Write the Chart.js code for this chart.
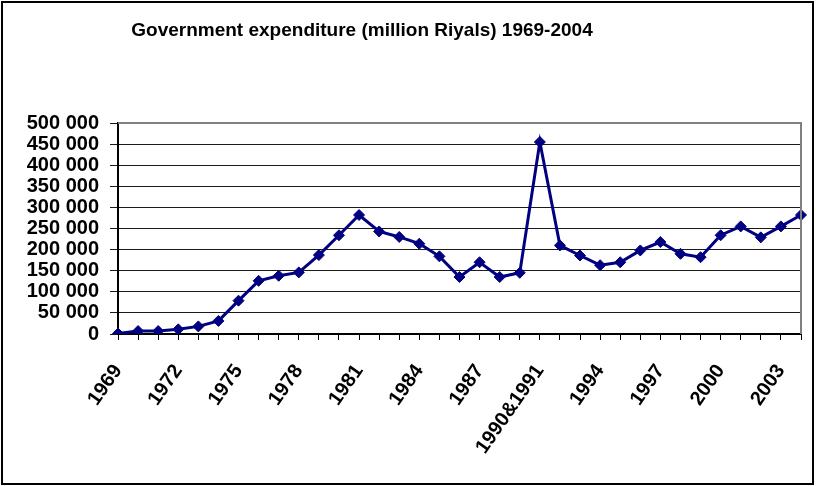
<!DOCTYPE html>
<html>
<head>
<meta charset="utf-8">
<script src="https://cdn.jsdelivr.net/npm/chart.js@4"></script>
<style>
  html, body { margin: 0; padding: 0; background: #fff; }
  #wrap { width: 816px; height: 486px; position: relative; }
</style>
</head>
<body>
<div id="wrap"><canvas id="chart" width="816" height="486"></canvas></div>
<script>
// --- Datos ---
const years = [
  "1969", "1970", "1971", "1972", "1973", "1974", "1975", "1976", "1977", "1978",
  "1979", "1980", "1981", "1982", "1983", "1984", "1985", "1986", "1987", "1988",
  "1989", "1990&1991", "1992", "1993", "1994", "1995", "1996", "1997", "1998", "1999",
  "2000", "2001", "2002", "2003", "2004",
];
const expenditure = [
  1000, 7000, 7000, 11000, 18000, 31000, 79000, 126000, 138000, 146000,
  187000, 234000, 282000, 243000, 230000, 214000, 184000, 135000, 170000, 135000,
  145000, 455000, 210000, 186000, 163000, 170000, 198000, 218000, 190000, 182000,
  234000, 255000, 229000, 255000, 282000,
];
const yTicks = [0, 50000, 100000, 150000, 200000, 250000, 300000, 350000, 400000, 450000, 500000];
const titleText = "Government expenditure (million Riyals) 1969-2004";

const FONT = "'Liberation Sans', Arial, sans-serif";

function fmtSpace(v) {
  return String(v).replace(/\B(?=(\d{3})+(?!\d))/g, " ");
}

// --- Marco, título y borde gris del área ---
const decorPlugin = {
  id: "decor",
  afterDraw(chart) {
    const { ctx, chartArea: a } = chart;
    ctx.save();
    // borde gris arriba y a la derecha
    ctx.strokeStyle = "#808080";
    ctx.lineWidth = 2;
    ctx.beginPath();
    ctx.moveTo(a.left, a.top);
    ctx.lineTo(a.right, a.top);
    ctx.lineTo(a.right, a.bottom);
    ctx.stroke();
    // título
    ctx.fillStyle = "#000";
    ctx.font = `bold 19px ${FONT}`;
    ctx.textAlign = "center";
    ctx.textBaseline = "alphabetic";
    ctx.fillText(titleText, 362, 36);
    // marco exterior
    ctx.strokeStyle = "#000";
    ctx.lineWidth = 2;
    ctx.strokeRect(2, 2, 811, 482);
    ctx.restore();
  },
};

new Chart(document.getElementById("chart"), {
  type: "line",
  data: {
    labels: years,
    datasets: [{
      data: expenditure,
      borderColor: "#000080",
      backgroundColor: "#000080",
      borderWidth: 3,
      tension: 0,
      pointStyle: "rectRot",
      pointRadius: 5.5,
      pointBorderWidth: 1,
      pointBorderColor: "#000080",
      pointBackgroundColor: "#000080",
    }],
  },
  options: {
    responsive: false,
    animation: false,
    layout: { padding: { top: 123, right: 15, left: 0, bottom: 0 } },
    plugins: {
      legend: { display: false },
      title: { display: false },
      tooltip: { enabled: false },
    },
    scales: {
      x: {
        offset: false,
        afterFit(scale) {
          scale.height = 152;
          scale.paddingLeft = 0;
          scale.paddingRight = 0;
        },
        grid: { drawOnChartArea: false, drawTicks: true, tickLength: 6, color: "#000", lineWidth: 1 },
        border: { display: true, color: "#000", width: 2 },
        ticks: {
          autoSkip: false,
          minRotation: 55,
          maxRotation: 55,
          padding: 20,
          color: "#000",
          font: { family: FONT, size: 20, weight: "bold" },
          callback(val, i) { return i % 3 === 0 ? years[i] : ""; },
        },
      },
      y: {
        min: 0,
        max: 500000,
        afterFit(scale) { scale.width = 118; },
        afterBuildTicks(scale) { scale.ticks = yTicks.map(v => ({ value: v })); },
        grid: { color: "#1a1a1a", lineWidth: 1, tickLength: 8, drawTicks: true },
        border: { display: true, color: "#000", width: 2 },
        ticks: {
          autoSkip: false,
          padding: 11,
          color: "#000",
          font: { family: FONT, size: 20, weight: "bold" },
          callback: v => fmtSpace(v),
        },
      },
    },
  },
  plugins: [decorPlugin],
});
</script>
</body>
</html>
